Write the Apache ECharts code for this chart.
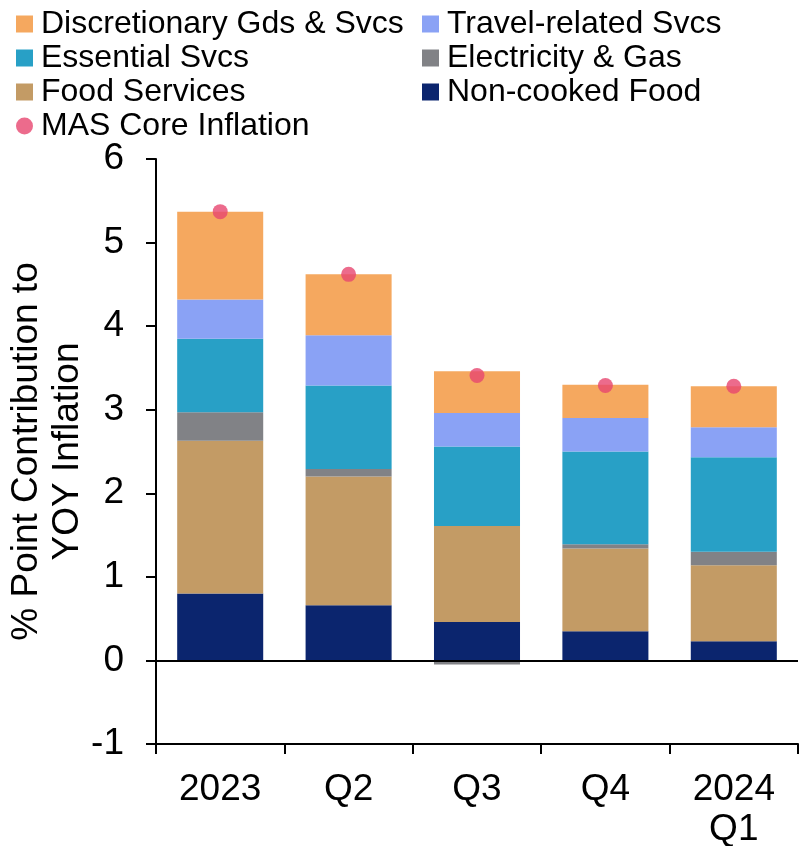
<!DOCTYPE html>
<html>
<head>
<meta charset="utf-8">
<script src="https://cdn.jsdelivr.net/npm/echarts@6/dist/echarts.min.js"></script>
<style>
  html, body { margin: 0; padding: 0; background: #fff; }
  #chart { width: 799px; height: 846px; }
</style>
</head>
<body>
<div id="chart"></div>
<script>
// Quarterly categories
const categories = ['2023', 'Q2', 'Q3', 'Q4', '2024\nQ1'];

// Contribution to YOY core inflation, percentage points
const nonCookedFood   = [0.80, 0.66, 0.46, 0.35, 0.23];
const foodServices    = [1.83, 1.54, 1.15, 0.99, 0.91];
const electricityGas  = [0.34, 0.09, -0.05, 0.05, 0.16];
const essentialSvcs   = [0.88, 1.00, 0.95, 1.11, 1.13];
const travelSvcs      = [0.47, 0.60, 0.40, 0.40, 0.36];
const discretionary   = [1.05, 0.73, 0.50, 0.40, 0.49];
const masCore         = [5.37, 4.62, 3.41, 3.29, 3.28];

const yTicks = { min: -1, max: 6, interval: 1 };

const FONT = '"Liberation Sans", Arial, sans-serif';

const colors = {
  disc: '#F5A85F',
  travel: '#8AA2F5',
  essential: '#28A0C6',
  elec: '#818286',
  food: '#C39B65',
  nonCooked: '#0B256E',
  core: '#E7466F'
};

function barSeries(name, data, color) {
  return {
    name: name,
    type: 'bar',
    stack: 'contrib',
    data: data,
    barWidth: '67%',
    itemStyle: { color: color },
    emphasis: { disabled: true }
  };
}

const legendText = {
  fontFamily: FONT,
  fontSize: 32,
  color: '#000',
  lineHeight: 30,
  padding: [0, 0, 0, 3]
};

const legendBase = {
  orient: 'vertical',
  top: 8,
  padding: 0,
  itemWidth: 17,
  itemHeight: 17,
  itemGap: 2,
  textStyle: legendText
};

const chart = echarts.init(document.getElementById('chart'), null, { renderer: 'canvas' });

chart.setOption({
  animation: false,
  backgroundColor: '#fff',
  textStyle: { fontFamily: FONT },
  legend: [
    Object.assign({}, legendBase, {
      left: 16,
      data: [
        { name: 'Discretionary Gds & Svcs', icon: 'rect' },
        { name: 'Essential Svcs', icon: 'rect' },
        { name: 'Food Services', icon: 'rect' },
        { name: 'MAS Core Inflation', icon: 'circle' }
      ]
    }),
    Object.assign({}, legendBase, {
      left: 422,
      data: [
        { name: 'Travel-related Svcs', icon: 'rect' },
        { name: 'Electricity & Gas', icon: 'rect' },
        { name: 'Non-cooked Food', icon: 'rect' }
      ]
    })
  ],
  grid: {
    left: 156,
    right: 1,
    top: 159,
    bottom: 102,
    containLabel: false,
    outerBoundsMode: 'none'
  },
  xAxis: {
    type: 'category',
    data: categories,
    boundaryGap: true,
    axisLine: { onZero: false, lineStyle: { color: '#000', width: 2 } },
    axisTick: { show: true, alignWithLabel: false, length: 10, lineStyle: { color: '#000', width: 2 } },
    axisLabel: {
      color: '#000',
      fontFamily: FONT,
      fontSize: 37,
      lineHeight: 40,
      margin: 26,
      interval: 0
    },
    splitLine: { show: false }
  },
  yAxis: {
    type: 'value',
    min: yTicks.min,
    max: yTicks.max,
    interval: yTicks.interval,
    name: '% Point Contribution to\nYOY Inflation',
    nameLocation: 'middle',
    nameRotate: 90,
    nameGap: 68,
    nameMoveOverlap: false,
    nameTextStyle: {
      color: '#000',
      fontFamily: FONT,
      fontSize: 37,
      lineHeight: 41
    },
    axisLine: { show: true, lineStyle: { color: '#000', width: 2 } },
    axisTick: { show: true, length: 10, lineStyle: { color: '#000', width: 2 } },
    axisLabel: {
      color: '#000',
      fontFamily: FONT,
      fontSize: 37,
      margin: 32
    },
    splitLine: { show: false }
  },
  series: [
    Object.assign(barSeries('Non-cooked Food', nonCookedFood, colors.nonCooked), {
      markLine: {
        silent: true,
        symbol: ['none', 'none'],
        label: { show: false },
        lineStyle: { color: '#000', width: 2, type: 'solid' },
        data: [{ yAxis: 0 }]
      }
    }),
    barSeries('Food Services', foodServices, colors.food),
    barSeries('Electricity & Gas', electricityGas, colors.elec),
    barSeries('Essential Svcs', essentialSvcs, colors.essential),
    barSeries('Travel-related Svcs', travelSvcs, colors.travel),
    barSeries('Discretionary Gds & Svcs', discretionary, colors.disc),
    {
      name: 'MAS Core Inflation',
      type: 'scatter',
      data: masCore,
      symbol: 'circle',
      symbolSize: 15,
      itemStyle: { color: colors.core },
      z: 5,
      emphasis: { disabled: true }
    }
  ]
});
</script>
</body>
</html>
